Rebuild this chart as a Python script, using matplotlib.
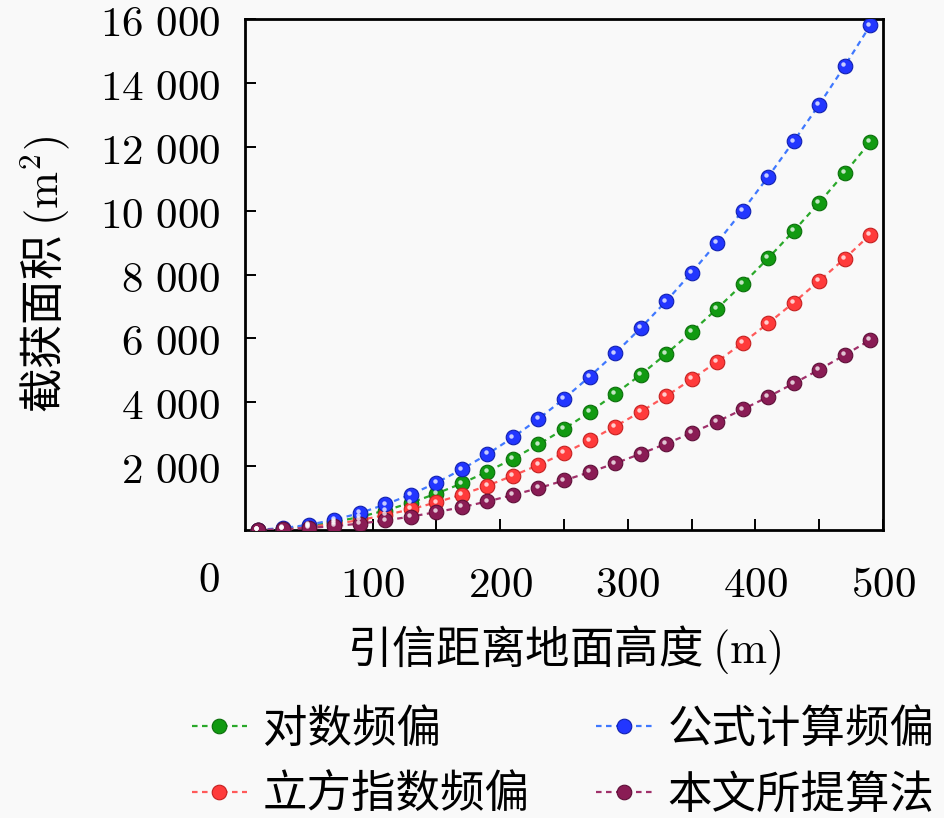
import matplotlib
matplotlib.use("Agg")
import matplotlib.pyplot as plt
import matplotlib.transforms as mtransforms
from matplotlib.ticker import FixedLocator, FuncFormatter

plt.rcParams['mathtext.fontset'] = 'cm'
plt.rcParams['font.family'] = ['Noto Sans CJK SC', 'DejaVu Sans']

# fuze height above ground (m)
heights = [10, 30, 50, 70, 90, 110, 130, 150, 170, 190, 210, 230, 250,
           270, 290, 310, 330, 350, 370, 390, 410, 430, 450, 470, 490]

# captured area (m^2)
log_shift = [5, 45, 125, 250, 410, 610, 855, 1140, 1460, 1830, 2230, 2680, 3160,
             3690, 4260, 4860, 5510, 6200, 6930, 7700, 8510, 9360, 10250, 11180, 12150]
formula_shift = [7, 60, 165, 320, 530, 800, 1110, 1480, 1900, 2375, 2900, 3480, 4110,
                 4800, 5530, 6320, 7160, 8060, 9000, 10000, 11060, 12170, 13320, 14530, 15800]
cubic_shift = [4, 35, 95, 190, 310, 465, 650, 865, 1110, 1390, 1700, 2035, 2405,
               2805, 3240, 3700, 4190, 4720, 5270, 5860, 6470, 7120, 7800, 8500, 9250]
proposed = [2, 22, 62, 122, 200, 300, 420, 560, 715, 895, 1095, 1310, 1550,
            1810, 2085, 2385, 2700, 3040, 3395, 3775, 4170, 4590, 5020, 5480, 5950]

series = [
    ('对数频偏', log_shift, '#119a11', '#0a6e0a', '#2aa82a'),
    ('立方指数频偏', cubic_shift, '#ff3b3b', '#c42020', '#ff5a5a'),
    ('公式计算频偏', formula_shift, '#2236ff', '#1020b0', '#3f78ff'),
    ('本文所提算法', proposed, '#8a1c55', '#5e0f38', '#a0306a'),
]

bg = '#f9f9f9'
fig = plt.figure(figsize=(9.45, 8.18), dpi=100, facecolor=bg)
ax = fig.add_axes([245 / 945, 1 - 530 / 818, (883 - 245) / 945, (530 - 19) / 818])
ax.set_facecolor(bg)

# small highlight offset to fake the shaded spheres
shine = mtransforms.ScaledTranslation(-1.8 / 100, 1.8 / 100, fig.dpi_scale_trans)

handles = []
for name, vals, face, edge, line in series:
    h, = ax.plot(heights, vals, linestyle=(0, (2.5, 2)), linewidth=1.6, color=line,
                 marker='o', markersize=10.5, markerfacecolor=face,
                 markeredgecolor=edge, markeredgewidth=0.8, label=name, zorder=3)
    ax.plot(heights, vals, linestyle='none', marker='o', markersize=3.2,
            markerfacecolor='white', markeredgewidth=0, alpha=0.75,
            transform=ax.transData + shine, zorder=4)
    handles.append(h)

ax.set_xlim(0, 500)
ax.set_ylim(0, 16000)

ax.xaxis.set_major_locator(FixedLocator([100, 200, 300, 400, 500]))
ax.xaxis.set_minor_locator(FixedLocator([50, 150, 250, 350, 450]))
ax.yaxis.set_major_locator(FixedLocator(range(2000, 16001, 2000)))


def num_fmt(v, pos):
    v = int(round(v))
    if v >= 1000:
        return r'$%d\ %03d$' % (v // 1000, v % 1000)
    return r'$%d$' % v


ax.xaxis.set_major_formatter(FuncFormatter(num_fmt))
ax.yaxis.set_major_formatter(FuncFormatter(num_fmt))
ax.tick_params(axis='both', which='both', direction='in', length=8, width=1.4,
               labelsize=31, top=False, right=False)
ax.tick_params(axis='x', which='major', pad=24)
ax.tick_params(axis='y', which='major', pad=18)
for sp in ax.spines.values():
    sp.set_linewidth(2)

# shared origin label
fig.text(209 / 945, 1 - 580 / 818, r'$0$', fontsize=31, ha='center', va='center')

ax.set_xlabel(r'引信距离地面高度 $(\mathrm{m})$', fontsize=32, labelpad=12)
ax.set_ylabel(r'截获面积 $(\mathrm{m}^2)$', fontsize=32, labelpad=20)

fig.legend(handles=handles, ncol=2, loc='center', frameon=False,
           bbox_to_anchor=(563 / 945, 1 - 762 / 818), fontsize=32,
           handlelength=1.25, handletextpad=0.35, columnspacing=1.5,
           labelspacing=0.45, numpoints=1, borderpad=0.2)

fig.savefig('out.png', dpi=100, facecolor=bg)
